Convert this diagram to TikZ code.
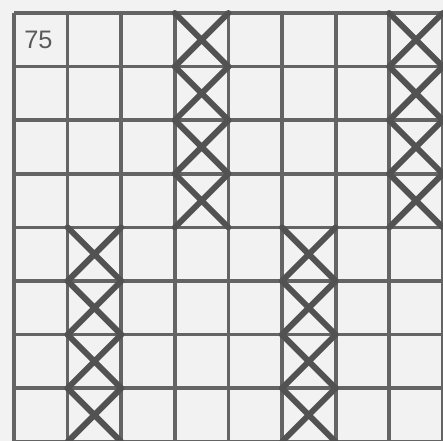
\documentclass[tikz,border=0pt]{standalone}
\usepackage{fontspec}
\setmainfont{Liberation Sans}
\definecolor{paper}{RGB}{242,242,242}
\definecolor{gridgray}{RGB}{100,100,100}
\definecolor{crossgray}{RGB}{82,82,82}
\definecolor{labelgray}{RGB}{90,90,90}
\begin{document}
\begin{tikzpicture}[
    x=0.25mm, y=-0.25mm,
    gridline/.style={draw=gridgray, line width=2.7pt},
    cross/.style={draw=crossgray, line width=4.2pt, line cap=round},
    celllabel/.style={font=\fontsize{18}{18}\selectfont, text=labelgray, inner sep=0pt},
]
    % Paper and frame of the picture
    \fill[paper] (0,0) rectangle (443,441);
    \useasboundingbox (0,0) rectangle (443,441);

    % Grid: 8 x 8 cells, cropped at right and bottom
    \foreach \i in {0,...,8} {
        \draw[gridline] (14+53.6*\i, 13) -- (14+53.6*\i, 445);
        \draw[gridline] (14, 13+53.6*\i) -- (445, 13+53.6*\i);
    }

    % Crosses: columns 4 and 8 in the upper half
    \foreach \col in {3,7} {
        \foreach \row in {0,...,3} {
            \draw[cross] (14+53.6*\col, 13+53.6*\row) -- (14+53.6*\col+53.6, 13+53.6*\row+53.6)
                         (14+53.6*\col+53.6, 13+53.6*\row) -- (14+53.6*\col, 13+53.6*\row+53.6);
        }
    }

    % Crosses: columns 2 and 6 in the lower half
    \foreach \col in {1,5} {
        \foreach \row in {4,...,7} {
            \draw[cross] (14+53.6*\col, 13+53.6*\row) -- (14+53.6*\col+53.6, 13+53.6*\row+53.6)
                         (14+53.6*\col+53.6, 13+53.6*\row) -- (14+53.6*\col, 13+53.6*\row+53.6);
        }
    }

    % Row number
    \node[celllabel] (rownum) at (38.5, 39.5) {75};
\end{tikzpicture}
\end{document}
